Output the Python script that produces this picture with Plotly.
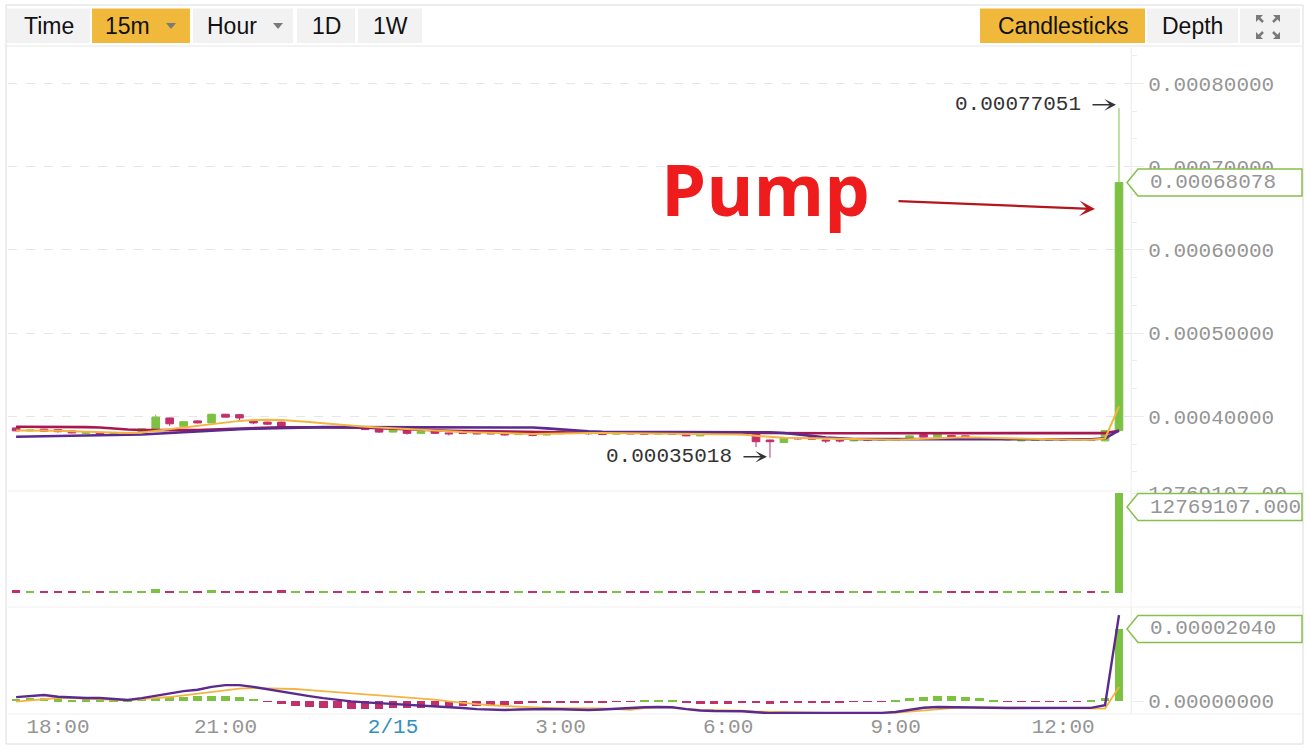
import pandas as pd
import plotly.graph_objects as go

# ---------------- data (prices / MACD in units of 1e-8 BTC) ----------------
times = pd.date_range("2018-02-14 17:15", "2018-02-15 13:00", freq="15min")  # 80 candles

open_sat = [38600, 38250, 38450, 38400, 38250, 37950, 38050, 37900, 37950, 38100,
            38450, 39800, 38800, 39450, 39200, 40250, 40200, 39450, 39300, 39300,
            38600, 38750, 38650, 38750, 38650, 38750, 38450, 38100, 38400, 37950,
            38250, 38000, 38050, 38000, 37950, 38000, 37800, 37950, 37750, 37900,
            38100, 38050, 38000, 37850, 37950, 37950, 37850, 37950, 38050, 37650,
            37950, 37950, 37950, 38000, 37150, 36850, 37400, 37450, 37150, 37100,
            37050, 37200, 37100, 37100, 37250, 37800, 37500, 37700, 37650, 37450,
            37350, 37150, 37050, 37100, 37100, 37200, 37150, 37250, 37050, 38300]
high_sat = [38700, 38400, 38500, 38450, 38300, 38100, 38100, 38050, 38100, 38550,
            40200, 39850, 39400, 39500, 40300, 40300, 40250, 39500, 39350, 39350,
            38800, 38800, 38800, 38800, 38850, 38800, 38500, 38400, 38450, 38250,
            38300, 38050, 38100, 38050, 38000, 38050, 38000, 38000, 38100, 38300,
            38150, 38100, 38050, 38000, 38000, 38000, 38000, 38000, 38100, 38050,
            38000, 38000, 38000, 38050, 37200, 37500, 37450, 37500, 37200, 37150,
            37250, 37250, 37250, 37350, 37700, 37850, 38000, 37750, 37700, 37500,
            37400, 37300, 37200, 37250, 37250, 37250, 37250, 37300, 38350, 77051]
low_sat = [38200, 38150, 38100, 38050, 37950, 37900, 37850, 37850, 37900, 38050,
           38400, 38850, 38750, 39150, 39150, 39850, 39550, 39050, 38950, 38650,
           38550, 38600, 38600, 38600, 38600, 38350, 38000, 38050, 37800, 37900,
           37900, 37700, 37900, 37850, 37850, 37700, 37750, 37600, 37700, 37850,
           37900, 37800, 37750, 37800, 37850, 37800, 37800, 37800, 37600, 37600,
           37800, 37850, 37750, 36300, 35018, 36800, 37200, 37200, 36800, 36850,
           37000, 37000, 37050, 37050, 37200, 37450, 37450, 37450, 37400, 37250,
           37200, 37100, 37000, 37050, 37050, 37100, 37100, 37100, 37000, 38250]
close_sat = [38250, 38350, 38200, 38150, 38000, 38050, 37900, 38000, 38050, 38500,
             39900, 39100, 39350, 39200, 40250, 39900, 39800, 39200, 39050, 38700,
             38750, 38650, 38750, 38650, 38800, 38400, 38100, 38350, 37950, 38200,
             37950, 37900, 37950, 37900, 37900, 37750, 37950, 37700, 38050, 38250,
             37950, 37900, 37800, 37950, 37900, 37850, 37950, 37850, 37650, 38000,
             37850, 37900, 37800, 36950, 36950, 37450, 37300, 37250, 37050, 37050,
             37200, 37100, 37200, 37300, 37650, 37500, 37950, 37500, 37450, 37300,
             37250, 37250, 37150, 37200, 37200, 37150, 37200, 37150, 38300, 68078]

ma_orange_sat = [38300, 38300, 38280, 38250, 38200, 38150, 38100, 38050, 38000, 38050,
                 38250, 38450, 38600, 38800, 39050, 39250, 39450, 39550, 39600, 39550,
                 39450, 39300, 39150, 39000, 38850, 38750, 38650, 38550, 38450, 38350,
                 38250, 38150, 38100, 38050, 38000, 37950, 37900, 37880, 37900, 37950,
                 37980, 37990, 37980, 37950, 37920, 37900, 37880, 37870, 37850, 37860,
                 37850, 37850, 37800, 37650, 37500, 37420, 37380, 37350, 37300, 37250,
                 37200, 37150, 37150, 37180, 37250, 37320, 37420, 37450, 37470, 37440,
                 37400, 37350, 37280, 37220, 37200, 37180, 37170, 37170, 37330, 41200]
ma_crimson_sat = [38750, 38750, 38750, 38740, 38720, 38700, 38650, 38520, 38420, 38360,
                  38330, 38330, 38340, 38360, 38420, 38500, 38560, 38610, 38650, 38680,
                  38690, 38690, 38690, 38680, 38670, 38640, 38580, 38500, 38420, 38350,
                  38300, 38260, 38230, 38200, 38180, 38160, 38140, 38120, 38100, 38080,
                  38060, 38050, 38040, 38030, 38020, 38010, 38000, 38000, 37990, 37990,
                  37990, 37980, 37980, 37980, 37970, 37970, 37970, 37970, 37960, 37960,
                  37960, 37960, 37960, 37960, 37960, 37960, 37960, 37960, 37960, 37960,
                  37960, 37960, 37960, 37960, 37960, 37960, 37960, 37960, 37980, 38250]
ma_purple_sat = [37550, 37580, 37600, 37620, 37640, 37660, 37680, 37720, 37760, 37820,
                 37900, 38000, 38050, 38150, 38250, 38350, 38450, 38500, 38550, 38600,
                 38650, 38680, 38700, 38700, 38700, 38700, 38700, 38700, 38700, 38700,
                 38700, 38700, 38700, 38700, 38700, 38700, 38700, 38650, 38550, 38420,
                 38300, 38200, 38150, 38120, 38100, 38100, 38100, 38100, 38100, 38100,
                 38100, 38100, 38100, 38100, 38080, 38000, 37850, 37650, 37450, 37320,
                 37280, 37260, 37250, 37250, 37250, 37250, 37250, 37250, 37240, 37240,
                 37240, 37240, 37240, 37240, 37240, 37240, 37240, 37250, 37350, 38300]

volume = [420000, 200000, 230000, 220000, 240000, 180000, 220000, 200000, 210000, 260000,
          460000, 250000, 220000, 230000, 440000, 240000, 220000, 230000, 240000, 400000,
          200000, 190000, 210000, 200000, 220000, 230000, 240000, 210000, 230000, 200000,
          240000, 210000, 200000, 220000, 210000, 230000, 200000, 240000, 220000, 230000,
          210000, 220000, 230000, 200000, 210000, 220000, 200000, 210000, 250000, 230000,
          210000, 220000, 230000, 420000, 300000, 240000, 210000, 220000, 230000, 210000,
          220000, 210000, 200000, 230000, 240000, 220000, 250000, 210000, 220000, 230000,
          210000, 220000, 230000, 220000, 210000, 200000, 220000, 210000, 300000, 12769107]

macd_sat = [110, 150, 170, 120, 100, 85, 85, 60, 30, 80,
            150, 230, 280, 320, 400, 450, 450, 400, 330, 260,
            200, 140, 80, 30, -10, -40, -60, -80, -100, -120,
            -140, -170, -200, -230, -250, -255, -240, -230, -225, -235,
            -250, -255, -240, -215, -195, -175, -170, -175, -230, -270,
            -285, -285, -290, -320, -345, -340, -340, -340, -345, -345,
            -340, -340, -335, -310, -250, -190, -170, -170, -170, -170,
            -190, -200, -200, -200, -200, -200, -200, -195, -120, 2434]
signal_sat = [-20, 20, 60, 85, 80, 60, 45, 35, 28, 50,
              80, 113, 160, 210, 270, 320, 350, 368, 365, 355,
              340, 310, 280, 255, 225, 195, 170, 140, 110, 85,
              40, -10, -57, -90, -120, -142, -160, -180, -198, -200,
              -200, -198, -210, -230, -250, -200, -175, -190, -230, -255,
              -260, -265, -275, -300, -311, -315, -320, -330, -335, -340,
              -340, -340, -340, -330, -300, -260, -220, -200, -185, -180,
              -180, -185, -190, -195, -195, -195, -195, -195, -215, 394]
hist_sat = [60, 80, 90, 50, 40, 50, 40, 30, 20, 60,
            90, 120, 120, 130, 140, 140, 110, 60, -20, -90,
            -130, -160, -190, -210, -220, -220, -220, -210, -200, -190,
            -180, -160, -150, -140, -130, -120, -90, -60, -40, -40,
            -50, -60, -40, -20, -20, 25, 20, 15, -60, -80,
            -90, -80, -70, -70, -80, -70, -60, -50, -40, -30,
            -20, -15, -10, 30, 80, 120, 150, 140, 110, 80,
            40, -20, -15, -10, -8, -6, -6, 5, 95, 2040]

price_ticks = [0.0004, 0.0005, 0.0006, 0.0007, 0.0008]
x_tickvals = ["2018-02-14 18:00", "2018-02-14 21:00", "2018-02-15 00:00", "2018-02-15 03:00",
              "2018-02-15 06:00", "2018-02-15 09:00", "2018-02-15 12:00"]
x_ticktext = ["18:00", "21:00", '<span style="color:#3290bf">2/15</span>', "3:00", "6:00", "9:00", "12:00"]

# ---------------- styling ----------------
SAT = 1e-8
W, H = 1310, 748
GREEN = "#7dc142"
PINK = "#c2306c"
PURPLE = "#5b2a8e"
CRIMSON = "#a8174f"
ORANGE = "#f3b440"
GOLD = "#f0b93b"
BTN = "#f2f2f2"
MONO = "Liberation Mono"
SANS = "Liberation Sans"
TICKGRAY = "#959595"


def px(x):
    return x / W


def py(y):
    return 1 - y / H


o = [v * SAT for v in open_sat]
h = [v * SAT for v in high_sat]
l = [v * SAT for v in low_sat]
c = [v * SAT for v in close_sat]
up = [cc >= oo for oo, cc in zip(open_sat, close_sat)]

# panel geometry (pixels)
X_L, X_R = 8, 1131
P_TOP, P_BOT = 48, 479
V_TOP, V_BOT = 491, 593
M_TOP, M_BOT = 607, 714

price_range = [32468 * SAT, 84240 * SAT]
vol_range = [0, 13024489]
macd_range = [-368 * SAT, 2663 * SAT]

fig = go.Figure()

fig.add_trace(go.Candlestick(
    x=times, open=o, high=h, low=l, close=c,
    increasing=dict(line=dict(color=GREEN, width=1), fillcolor=GREEN),
    decreasing=dict(line=dict(color=PINK, width=1), fillcolor=PINK),
    whiskerwidth=0, xaxis="x", yaxis="y", hoverinfo="skip", name="price"))

for arr, col, wd in [(ma_crimson_sat, CRIMSON, 2.6), (ma_purple_sat, PURPLE, 2.6), (ma_orange_sat, ORANGE, 2.0)]:
    fig.add_trace(go.Scatter(x=times, y=[v * SAT for v in arr], mode="lines",
                             line=dict(color=col, width=wd), xaxis="x", yaxis="y",
                             hoverinfo="skip"))

fig.add_trace(go.Bar(x=times, y=volume, width=560000,
                     marker=dict(color=[GREEN if u else PINK for u in up], line=dict(width=0)),
                     xaxis="x2", yaxis="y2", hoverinfo="skip"))

fig.add_trace(go.Bar(x=times, y=[v * SAT for v in hist_sat], width=560000,
                     marker=dict(color=[GREEN if v >= 0 else PINK for v in hist_sat], line=dict(width=0)),
                     xaxis="x3", yaxis="y3", hoverinfo="skip"))
fig.add_trace(go.Scatter(x=times, y=[v * SAT for v in signal_sat], mode="lines",
                         line=dict(color=ORANGE, width=1.8), xaxis="x3", yaxis="y3", hoverinfo="skip"))
fig.add_trace(go.Scatter(x=times, y=[v * SAT for v in macd_sat], mode="lines",
                         line=dict(color=PURPLE, width=2.4), xaxis="x3", yaxis="y3", hoverinfo="skip"))

x_range = ["2018-02-14 17:06:18", "2018-02-15 13:12:54"]
xdom = [px(X_L), px(X_R)]
tickfont = dict(family=MONO, size=21, color=TICKGRAY)
common_x = dict(domain=xdom, range=x_range, showgrid=False, zeroline=False, automargin=False,
                showline=False, ticks="", type="date")
common_y = dict(side="right", zeroline=False, showline=True, linecolor="#f0f0f0", automargin=False,
                ticks="outside", ticklen=12, tickcolor="#ececec", tickfont=tickfont)

fig.update_layout(
    width=W, height=H, margin=dict(l=0, r=0, t=0, b=0, pad=0), autosize=False,
    paper_bgcolor="white", plot_bgcolor="white", showlegend=False,
    boxgap=0.22, bargap=0,
    xaxis=dict(**common_x, anchor="y", showticklabels=False,
               rangeslider=dict(visible=False)),
    xaxis2=dict(**common_x, anchor="y2", matches="x", showticklabels=False),
    xaxis3=dict(**common_x, anchor="y3", matches="x", tickvals=x_tickvals,
                ticktext=x_ticktext, tickfont=tickfont, ticklabelstandoff=-3),
    yaxis=dict(**common_y, anchor="x", domain=[py(P_BOT), py(P_TOP)], range=price_range,
               tickvals=price_ticks, ticktext=["%.8f" % v for v in price_ticks],
               showgrid=True, gridcolor="#e6e6e6", griddash="dash", gridwidth=1,
               minor=dict(tickmode="linear", tick0=0.0004, dtick=0.0001 / 3, ticks="outside",
                          ticklen=5, tickcolor="#ececec", showgrid=False)),
    yaxis2=dict(**common_y, anchor="x2", domain=[py(V_BOT), py(V_TOP)], range=vol_range,
                tickvals=[volume[-1]], ticktext=["%.2f" % volume[-1]], showgrid=False),
    yaxis3=dict(**common_y, anchor="x3", domain=[py(M_BOT), py(M_TOP)], range=macd_range,
                tickvals=[0], ticktext=["0.00000000"], showgrid=False),
)

shapes = []
annotations = []

# outer frame and panel separators
shapes.append(dict(type="rect", xref="paper", yref="paper", x0=px(6), x1=px(1303), y0=py(744), y1=py(5),
                   line=dict(color="#dcdcdc", width=1), fillcolor="rgba(0,0,0,0)", layer="below"))
shapes.append(dict(type="line", xref="paper", yref="paper", x0=px(6), x1=px(1303), y0=py(46), y1=py(46),
                   line=dict(color="#e6e6e6", width=1), layer="below"))
for yy in [V_TOP, M_TOP, M_BOT]:
    shapes.append(dict(type="line", xref="paper", yref="paper", x0=px(X_L), x1=px(1303), y0=py(yy), y1=py(yy),
                       line=dict(color="#efefef", width=1), layer="below"))

# toolbar buttons
buttons = [("Time", 7, 90, BTN, None), ("15m", 92, 190, GOLD, 171), ("Hour", 193, 293, BTN, 278),
           ("1D", 297, 355, BTN, None), ("1W", 358, 422, BTN, None),
           ("Candlesticks", 980, 1145, GOLD, None), ("Depth", 1147, 1238, BTN, None), ("", 1240, 1300, BTN, None)]
for label, x0, x1, col, tri in buttons:
    shapes.append(dict(type="rect", xref="paper", yref="paper", x0=px(x0), x1=px(x1), y0=py(43), y1=py(8.5),
                       fillcolor=col, line=dict(width=0), layer="below"))
    if label:
        cx = (x0 + x1) / 2 if tri is None else (x0 + tri - 8) / 2
        annotations.append(dict(text=label, xref="paper", yref="paper", x=px(cx), y=py(26),
                                xanchor="center", yanchor="middle", showarrow=False,
                                font=dict(family=SANS, size=23, color="#111111")))
    if tri is not None:
        shapes.append(dict(type="path", xref="paper", yref="paper",
                           path=f"M {px(tri - 5)},{py(23)} L {px(tri + 5)},{py(23)} L {px(tri)},{py(29)} Z",
                           fillcolor="#7a7a7a", line=dict(width=0)))

# expand icon
icx, icy, s = 1268, 27, 12
for dx, dy in [(-1, -1), (1, -1), (-1, 1), (1, 1)]:
    cxp, cyp = icx + dx * s, icy + dy * s
    shapes.append(dict(type="path", xref="paper", yref="paper",
                       path=(f"M {px(cxp)},{py(cyp)} L {px(cxp - dx * 7)},{py(cyp)} "
                             f"L {px(cxp)},{py(cyp - dy * 7)} Z"),
                       fillcolor="#7a7a7a", line=dict(width=0)))
    shapes.append(dict(type="line", xref="paper", yref="paper", x0=px(cxp - dx * 2), y0=py(cyp - dy * 2),
                       x1=px(cxp - dx * 7), y1=py(cyp - dy * 7), line=dict(color="#7a7a7a", width=2.5)))

# vertical separator between plot and axis labels
shapes.append(dict(type="line", xref="paper", yref="paper", x0=px(X_R), x1=px(X_R), y0=py(M_BOT), y1=py(P_TOP),
                   line=dict(color="#f0f0f0", width=1), layer="below"))


# last-value callouts
def callout(yref, yc, half, text):
    shapes.append(dict(type="path", xref="paper", yref=yref,
                       path=(f"M {px(1127)},{yc} L {px(1138)},{yc + half} L {px(1302)},{yc + half} "
                             f"L {px(1302)},{yc - half} L {px(1138)},{yc - half} Z"),
                       fillcolor="white", line=dict(color="#86c04c", width=1.5), layer="above"))
    annotations.append(dict(text=text, xref="paper", yref=yref, x=px(1148), y=yc, xanchor="left",
                            yanchor="middle", showarrow=False, font=tickfont))


price_per_px = (price_range[1] - price_range[0]) / (P_BOT - P_TOP)
macd_per_px = (macd_range[1] - macd_range[0]) / (M_BOT - M_TOP)
callout("y", close_sat[-1] * SAT, 13.5 * price_per_px, "%.8f" % (close_sat[-1] * SAT))
callout("paper", py(507), 13.5 / H, "%.3f" % volume[-1])
callout("y3", hist_sat[-1] * SAT, 13.5 * macd_per_px, "%.8f" % (hist_sat[-1] * SAT))

# high / low markers
hi_val = max(high_sat) * SAT
lo_val = min(low_sat) * SAT
hi_i = high_sat.index(max(high_sat))
lo_i = low_sat.index(min(low_sat))
for val, i, shift in [(hi_val, hi_i, 3), (lo_val, lo_i, 1)]:
    annotations.append(dict(text="", x=times[i], y=val, xref="x", yref="y", showarrow=True,
                            ax=-28, ay=0, arrowhead=3, arrowsize=1.3, arrowwidth=1.5, arrowcolor="#333",
                            standoff=3, yshift=shift))
    annotations.append(dict(text="%.8f" % val, x=times[i], y=val, xref="x", yref="y", showarrow=False,
                            xanchor="right", yanchor="middle", xshift=-36, yshift=shift,
                            font=dict(family=MONO, size=21, color="#333333")))

# Pump label and red arrow
annotations.append(dict(text="<b>Pump</b>", xref="paper", yref="paper", x=px(766), y=py(188),
                        xanchor="center", yanchor="middle", showarrow=False,
                        font=dict(family="Open Sans", size=72, color="#ee1c1c")))
annotations.append(dict(text="", xref="paper", yref="paper", x=px(1095), y=py(209), ax=-198, ay=-8,
                        showarrow=True, arrowhead=3, arrowsize=1.2, arrowwidth=2.2, arrowcolor="#b5161b"))

fig.update_layout(shapes=shapes, annotations=annotations)

page_fix = (
    "document.documentElement.style.margin='0px';"
    "document.documentElement.style.padding='0px';"
    "document.documentElement.style.overflow='hidden';"
    "document.body.style.margin='0px';"
    "document.body.style.padding='0px';"
    "document.body.style.overflow='hidden';"
    "var gd=document.getElementById('{plot_id}');"
    "gd.style.position='absolute';gd.style.top='0px';gd.style.left='0px';"
)
fig.write_html("out.html", config={"displayModeBar": False}, post_script=page_fix)
